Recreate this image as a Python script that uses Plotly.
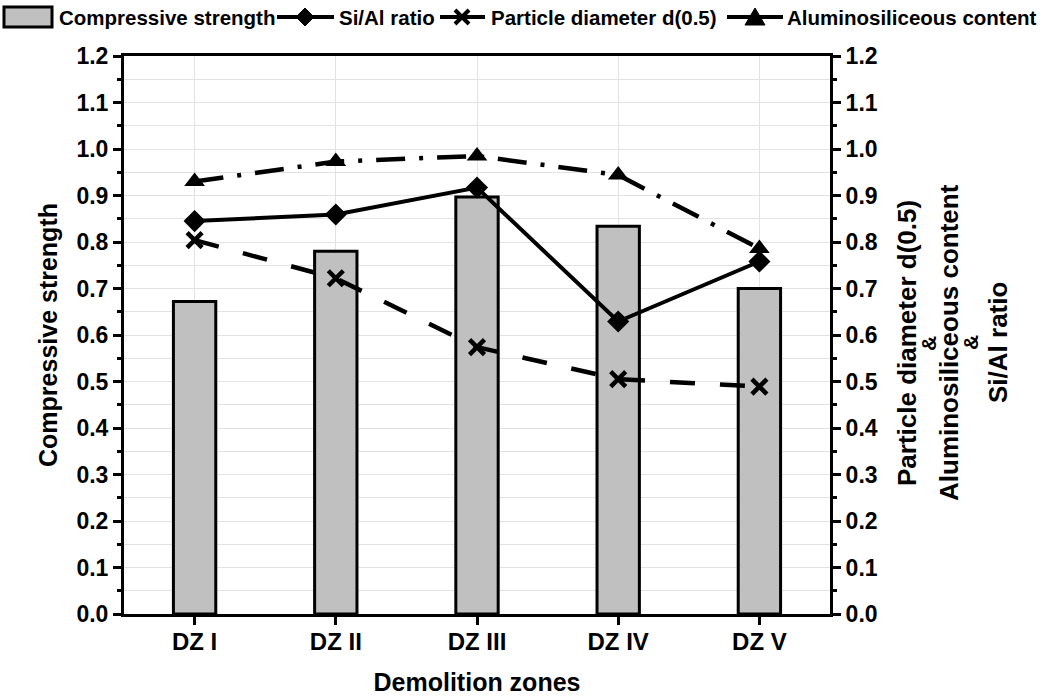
import plotly.graph_objects as go

# Demolition-zone data (normalised values)
zones = ["DZ I", "DZ II", "DZ III", "DZ IV", "DZ V"]
compressive_strength = [0.672, 0.780, 0.897, 0.834, 0.700]
si_al_ratio = [0.845, 0.859, 0.917, 0.629, 0.758]
particle_d50 = [0.804, 0.722, 0.574, 0.505, 0.489]
aluminosiliceous = [0.930, 0.973, 0.985, 0.944, 0.786]

y_ticks = [round(0.1 * i, 1) for i in range(13)]
y_ticklabels = [f"{v:.1f}" for v in y_ticks]

FONT = "Arial, Liberation Sans, sans-serif"
BAR_GREY = "#c0c0c0"
GRID = "#e2e2e2"

# plot-area geometry in pixels (figure is 1040 x 696)
W, H = 1040, 696
L, R, T, B = 124, 830, 56, 614


def px(x):
    return (x - L) / (R - L)


def py(y):
    return (B - y) / (B - T)


fig = go.Figure()

fig.add_trace(go.Bar(
    x=zones, y=compressive_strength, name="Compressive strength",
    width=0.3, marker=dict(color=BAR_GREY, line=dict(color="black", width=3)),
    yaxis="y", showlegend=False,
))

fig.add_trace(go.Scatter(
    x=zones, y=si_al_ratio, name="Si/Al ratio", mode="lines+markers",
    line=dict(color="black", width=4),
    marker=dict(symbol="diamond", size=17, color="black"),
    yaxis="y2", showlegend=False,
))

fig.add_trace(go.Scatter(
    x=zones, y=particle_d50, name="Particle diameter d(0.5)", mode="lines+markers",
    line=dict(color="black", width=4.5, dash="25px,25px"),
    marker=dict(symbol="x-thin", size=15, color="black",
                line=dict(color="black", width=4.5)),
    yaxis="y2", showlegend=False,
))

fig.add_trace(go.Scatter(
    x=zones, y=aluminosiliceous, name="Aluminosiliceous content", mode="lines+markers",
    line=dict(color="black", width=4.5, dash="29px,14px,4px,14px"),
    marker=dict(symbol="triangle-up", size=18, color="black"),
    yaxis="y2", showlegend=False,
))

yaxis_common = dict(
    range=[0, 1.2], tickvals=y_ticks, ticktext=y_ticklabels,
    ticks="outside", ticklen=8, tickwidth=3, tickcolor="black",
    showline=True, linecolor="black", linewidth=3,
    tickfont=dict(family=FONT, size=23, color="black", weight="bold"),
    zeroline=False, automargin=False,
    minor=dict(dtick=0.05, tick0=0, ticks="outside", ticklen=4, tickwidth=2.5,
               tickcolor="black", showgrid=True, gridcolor=GRID, gridwidth=1),
)

fig.update_layout(
    width=W, height=H,
    margin=dict(l=L, r=W - R, t=T, b=H - B, pad=0, autoexpand=False),
    paper_bgcolor="white", plot_bgcolor="white",
    font=dict(family=FONT, color="black"),
    xaxis=dict(
        type="category", range=[-0.5, 4.5], automargin=False,
        ticks="outside", ticklen=8, tickwidth=3, tickcolor="black",
        showline=True, linecolor="black", linewidth=3, mirror=True,
        showgrid=True, gridcolor=GRID, gridwidth=1, ticklabelstandoff=-4,
        tickfont=dict(family=FONT, size=24, color="black", weight="bold"),
        title=dict(text="Demolition zones", standoff=20,
                   font=dict(family=FONT, size=25, color="black", weight="bold")),
    ),
    yaxis=dict(
        **yaxis_common, showgrid=True, gridcolor=GRID, gridwidth=1,
        title=dict(text="Compressive strength", standoff=12,
                   font=dict(family=FONT, size=25, color="black", weight="bold")),
    ),
    yaxis2=dict(
        **yaxis_common, overlaying="y", side="right", showgrid=False,
    ),
)
fig.update_layout(yaxis2_minor_showgrid=False)

# right-hand axis title, stacked lines
right_title = ["Particle diameter d(0.5)", "&", "Aluminosiliceous content", "&", "Si/Al ratio"]
right_cols = [907, 928, 949, 970, 998]
for txt, cx in zip(right_title, right_cols):
    fig.add_annotation(
        text=txt, xref="paper", yref="paper", x=px(cx), y=py(343),
        xanchor="center", yanchor="middle", textangle=-90, showarrow=False,
        font=dict(family=FONT, size=26 if txt != "&" else 21, color="black", weight="bold"),
    )

# legend row across the top
LEG_Y = 17
shapes = []
shapes.append(dict(type="rect", xref="paper", yref="paper",
                   x0=px(4), x1=px(52), y0=py(7), y1=py(27),
                   fillcolor=BAR_GREY, line=dict(color="black", width=3)))


def seg(x0, x1, width=4):
    return dict(type="line", xref="paper", yref="paper",
                x0=px(x0), x1=px(x1), y0=py(LEG_Y), y1=py(LEG_Y),
                line=dict(color="black", width=width))


def path(points):
    d = "M " + " L ".join(f"{px(x)},{py(y)}" for x, y in points) + " Z"
    return dict(type="path", xref="paper", yref="paper", path=d,
                fillcolor="black", line=dict(color="black", width=1))


shapes.append(seg(277, 334))
shapes.append(path([(305, LEG_Y - 9), (314, LEG_Y), (305, LEG_Y + 9), (296, LEG_Y)]))
shapes.append(seg(440, 485))
for dx in (-7, 7):
    shapes.append(dict(type="line", xref="paper", yref="paper",
                       x0=px(462 - 7), x1=px(462 + 7),
                       y0=py(LEG_Y - dx), y1=py(LEG_Y + dx),
                       line=dict(color="black", width=4)))
shapes.append(seg(727, 783))
shapes.append(path([(755, LEG_Y - 9), (765, LEG_Y + 8), (745, LEG_Y + 8)]))
fig.update_layout(shapes=shapes)

legend_items = [("Compressive strength", 57), ("Si/Al ratio", 337),
                ("Particle diameter d(0.5)", 489), ("Aluminosiliceous content", 785)]
for txt, lx in legend_items:
    fig.add_annotation(
        text=txt, xref="paper", yref="paper", x=px(lx), y=py(LEG_Y),
        xanchor="left", yanchor="middle", showarrow=False,
        font=dict(family=FONT, size=20.5, color="black", weight="bold"),
    )

fig.write_html("out.html")
